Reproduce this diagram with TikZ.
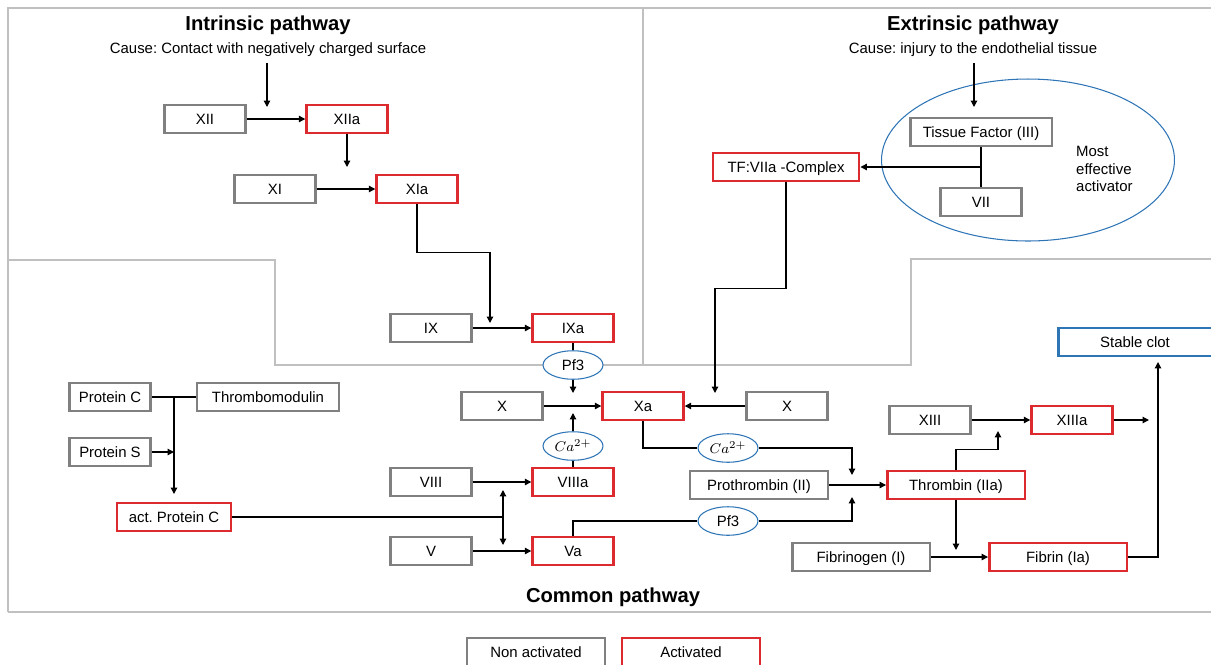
\documentclass[tikz,border=0pt]{standalone}
\usepackage{fontspec}
\setmainfont{Liberation Sans}
\usetikzlibrary{
  arrows.meta,
  shapes.geometric
}
\frenchspacing
\definecolor{factorgray}{HTML}{808080}
\definecolor{activered}{HTML}{DC2A2E}
\definecolor{clotblue}{HTML}{2E75B6}
\definecolor{framegray}{HTML}{C0C0C0}
\tikzset{
  factor/.style={
    draw=factorgray,
    line width=1.4pt,
    minimum width=1.62cm,
    minimum height=0.57cm,
    inner sep=1pt,
    text height=1.6ex,
    text depth=0.4ex,
    fill=white,
    font=\fontsize{8.5}{10}\selectfont
  },
  active factor/.style={
    factor,
    draw=activered
  },
  cofactor/.style={
    ellipse,
    draw=clotblue,
    line width=0.6pt,
    minimum width=1.2cm,
    minimum height=0.57cm,
    inner sep=0pt,
    fill=white,
    font=\fontsize{8.5}{10}\selectfont
  },
  reaction/.style={
    line width=0.7pt,
    -{Triangle[length=3.6pt,width=3.6pt]}
  },
  link/.style={
    line width=0.7pt
  },
  region frame/.style={
    draw=framegray,
    line width=0.6pt
  },
  pathway title/.style={
    font=\fontsize{11.5}{13}\selectfont\bfseries
  },
  cause text/.style={
    font=\fontsize{8.5}{10.2}\selectfont
  }
}

\begin{document}
\begin{tikzpicture}[x=0.02cm, y=-0.02cm]
  \useasboundingbox (0,0) rectangle (1211,664);

  % ---------- Regions ----------
  \draw[region frame] (8,612) -- (8,8) -- (1211,8);
  \draw[region frame] (643,8) -- (643,365);
  \draw[region frame]
    (8,260) -- (275,260) -- (275,365)
    -- (911,365) -- (911,259) -- (1211,259);
  \draw[region frame] (8,612) -- (1211,612);

  % ---------- Intrinsic pathway ----------
  \node[pathway title] (intr title) at (268,25) {Intrinsic pathway};
  \node[cause text] (intr cause) at (268,50)
    {Cause: Contact with negatively charged surface};

  \node[factor] (XII) at (205,119) {XII};
  \node[active factor] (XIIa) at (347,119) {XIIa};
  \node[factor] (XI) at (275,189) {XI};
  \node[active factor] (XIa) at (417,189) {XIa};
  \node[factor] (IX) at (431,328) {IX};
  \node[active factor] (IXa) at (573,328) {IXa};

  \coordinate (xii in) at (267,107);
  \coordinate (xi in) at (347,167);
  \coordinate (ix in) at (490,323);

  \draw[reaction] (intr cause.south -| xii in) -- (xii in);
  \draw[reaction] (XII) -- (XIIa);
  \draw[reaction] (XIIa) -- (xi in);
  \draw[reaction] (XI) -- (XIa);
  \draw[reaction] (XIa.south) -- ++(0,48) -| (ix in);
  \draw[reaction] (IX) -- (IXa);

  % ---------- Extrinsic pathway ----------
  \node[pathway title] (extr title) at (973,25) {Extrinsic pathway};
  \node[cause text] (extr cause) at (973,50)
    {Cause: injury to the endothelial tissue};

  \node[ellipse, draw=clotblue, line width=0.6pt,
    minimum width=5.86cm, minimum height=3.24cm] (tf zone) at (1028,160) {};
  \node[factor, minimum width=2.83cm] (TF) at (981,132) {Tissue Factor (III)};
  \node[factor] (VII) at (981,202) {VII};
  \node[cause text, align=left, anchor=west] (activator note) at (1070,169)
    {Most\\effective\\activator};
  \node[active factor, minimum width=2.93cm] (TFVIIa) at (786,167)
    {TF:VIIa -Complex};

  \coordinate (tf in) at (974,107);
  \coordinate (tf branch) at (981,167);

  \draw[reaction] (extr cause.south -| tf in) -- (tf in);
  \draw[link] (TF) -- (VII);
  \draw[reaction] (tf branch) -- (TFVIIa);

  % ---------- Common pathway ----------
  \node[pathway title] (comm title) at (613,597) {Common pathway};

  \node[cofactor] (Pf3a) at (573,365) {Pf3};
  \node[factor] (X) at (502,406) {X};
  \node[active factor] (Xa) at (643,406) {Xa};
  \node[factor] (X2) at (787,406) {X};
  \node[cofactor] (Ca1) at (573,446) {$Ca^{2+}$};
  \node[factor] (VIII) at (431,482) {VIII};
  \node[active factor] (VIIIa) at (573,482) {VIIIa};
  \node[factor] (V) at (431,551) {V};
  \node[active factor] (Va) at (573,551) {Va};

  \node[factor] (PC) at (110,397) {Protein C};
  \node[factor, minimum width=2.83cm] (TM) at (268,397) {Thrombomodulin};
  \node[factor] (PS) at (110,452) {Protein S};
  \node[active factor, minimum width=2.27cm] (APC) at (174,517) {act. Protein C};

  \node[cofactor] (Ca2) at (728,448) {$Ca^{2+}$};
  \node[cofactor] (Pf3b) at (728,521) {Pf3};
  \node[factor, minimum width=2.75cm] (PT) at (759,485) {Prothrombin (II)};
  \node[active factor, minimum width=2.75cm] (THR) at (956,485) {Thrombin (IIa)};
  \node[factor] (XIII) at (930,420) {XIII};
  \node[active factor] (XIIIa) at (1072,420) {XIIIa};
  \node[factor, minimum width=2.75cm] (FBG) at (861,557) {Fibrinogen (I)};
  \node[active factor, minimum width=2.75cm] (FIB) at (1058,557) {Fibrin (Ia)};
  \node[factor, draw=clotblue, minimum width=3.07cm] (clot) at (1135,342)
    {Stable clot};

  \coordinate (xa top) at (573,393);
  \coordinate (xa low) at (573,413);
  \coordinate (xa right) at (715,393);
  \coordinate (viii mid) at (503,490);
  \coordinate (v mid) at (503,545);
  \coordinate (apc join) at (503,517);
  \coordinate (pc branch) at (174,397);
  \coordinate (apc in) at (174,494);
  \coordinate (thr top) at (852,475);
  \coordinate (thr low) at (852,497);
  \coordinate (xiii low) at (998,431);
  \coordinate (xiiia out) at (1149,420);
  \coordinate (fib in) at (956,550);
  \coordinate (clot in) at (1158,362);

  % tenase and prothrombinase
  \draw[link] (IXa) -- (Pf3a);
  \draw[reaction] (Pf3a) -- (xa top);
  \draw[reaction] (X) -- (Xa);
  \draw[link] (VIIIa) -- (Ca1);
  \draw[reaction] (Ca1) -- (xa low);
  \draw[reaction] (VIII) -- (VIIIa);
  \draw[reaction] (V) -- (Va);
  \draw[reaction] (TFVIIa.south) -- ++(0,106) -| (xa right);
  \draw[reaction] (X2) -- (Xa);

  % protein C
  \draw[link] (PC) -- (TM);
  \draw[reaction] (pc branch) -- (apc in);
  \draw[reaction] (PS) -- (PS -| pc branch);
  \draw[link] (APC) -- (apc join);
  \draw[line width=0.7pt,
    {Triangle[length=3.6pt,width=3.6pt]}-{Triangle[length=3.6pt,width=3.6pt]}]
    (viii mid) -- (v mid);

  % thrombin and fibrin
  \draw[link] (Xa.south) |- (Ca2);
  \draw[reaction] (Ca2) -| (thr top);
  \draw[link] (Va) |- (Pf3b);
  \draw[reaction] (Pf3b) -| (thr low);
  \draw[reaction] (PT) -- (THR);
  \draw[reaction] (THR.north) -- ++(0,-20) -| (xiii low);
  \draw[reaction] (XIII) -- (XIIIa);
  \draw[reaction] (XIIIa) -- (xiiia out);
  \draw[reaction] (THR) -- (fib in);
  \draw[reaction] (FBG) -- (FIB);
  \draw[reaction] (FIB) -| (clot in);

  % ---------- Legend ----------
  \node[factor, minimum width=2.75cm] (legend off) at (536,652) {Non activated};
  \node[active factor, minimum width=2.75cm] (legend on) at (691,652) {Activated};

\end{tikzpicture}
\end{document}
